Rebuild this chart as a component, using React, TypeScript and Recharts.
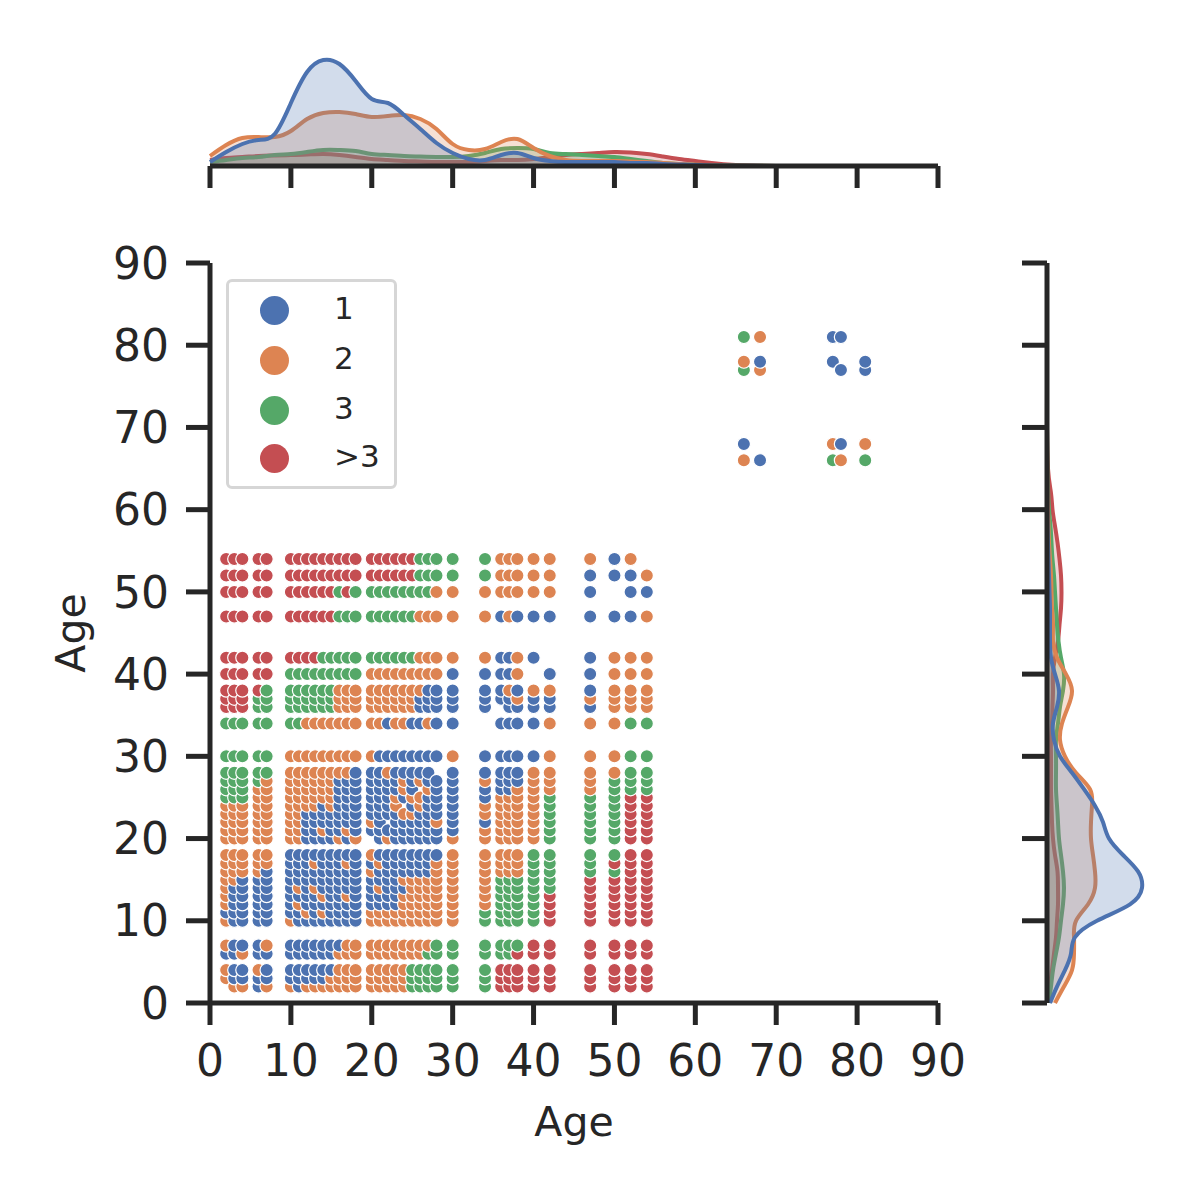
import { Area, AreaChart, Scatter, ScatterChart, XAxis, YAxis } from "recharts";

const BLUE = "#4c72b0";
const ORANGE = "#dd8452";
const GREEN = "#55a868";
const RED = "#c44e52";
const INK = "#262626";
const FONT = "DejaVu Sans";

const TICKS = [0, 10, 20, 30, 40, 50, 60, 70, 80, 90];

const legendLabels = ["1", "2", "3", ">3"];
const legendColors = [BLUE, ORANGE, GREEN, RED];
const colorByCode: Record<string, string> = { B: BLUE, O: ORANGE, G: GREEN, R: RED };

// lower-left block: one letter per age in gridX, "." = no point
const gridX = [2, 3, 4, 6, 7, 10, 11, 12, 13, 14, 15, 16, 17, 18, 20, 21, 22, 23, 24, 25, 26, 27, 28, 30, 34, 36, 37, 38, 40, 42, 47, 50, 52, 54];
const gridY = [54, 52, 50, 47, 42, 40, 38, 37, 36, 34, 30, 28, 27, 26, 25, 24, 23, 22, 21, 20, 18, 17, 16, 15, 14, 13, 12, 11, 10, 7, 6, 4, 3, 2];
const gridRows = [
  "RRR RR RRRRRRRRR RRRRRRGGG G G OOO OO O BO.",
  "RRR RR RRRRRRRRR RRRRRRGGG G G OOO OO B BBO",
  "RRR RR RRRRRRGRG GGGGGGGGO O O OOO OO B .BB",
  "RRR RR RRRRRRGGG GGGGGGOOO O O BOB BB B BBO",
  "RRR RR RRRRGGGGG GGGGGGOOO O O BBO B. B OOO",
  "RRR RR GGGGGGGGG OOOOOOOOO B B BBO .B B OOO",
  "RRR RG GGGGGGOOO OOOOOOOBB B B BOB OO B OOO",
  "RRR GG GGGGGGOOO OOOOOOBBB B B BBO BB O OOO",
  "RRR GG GGGGGGOOO OOOOOOBBB B B .BB BB B OOO",
  "GGG GG GGOOOOOOO OOBOOBBOB B . BBB BO O OGG",
  "GGG GG OOOOOOOOO OBBBBBBBB O B BBB BO O OGG",
  "GGG GG OOOOOOOOB BBOBBBBB. B B BBB OO O OGG",
  "GGG GO OOOOOOBBB BBBBOBOBB B O BBB OO O GGG",
  "GGG OO OOOOOOBBB BBBBOB.OB B B BBO OO O GGG",
  "GGG OO OOOOOOBBB BBBOBOOBB B B OOO OG G GRR",
  "OOO OO OOOOBOBBB BBBO.BOBB B O OOO OG G GRR",
  "OOO OO OOBBBBBBB BBBBOOBBB B O OOO OG G GRR",
  "OOO OO OOBBBBBBB OB.BBBBBO B B OOO OG G GRR",
  "OOO OO OOBBOBBOB BBBBBBBBB B O OOO OG G GRR",
  "OOO OO OOBBBBOBO .BOBBBBBB O O OOO OG G GRR",
  "OOO OO BBBBBBBBB OBBBBBBBB O O OOO GG G GRR",
  "OOO OO BBBOBBBOB BOBBBBBBO O O OOO GG G RRR",
  "OOO OB BBBBBBBBB OBBBBBBBO O O OOO GG G GRR",
  "OOB BB BBBBBBBBB BBBBOOOOO O O GGG GG R RRR",
  "OBB BB BOBOBBBBB BOBBBOOOO O O GGG GG R RRR",
  "OBB BB BBBBOBBOB BBBBOOOOO O O GGG GR R RRR",
  "OBB BB BOBBBBBBB BBBBOOOOO O O GGG GR R RRR",
  "BBB BB BBOBOBBBB OOOOOOOOO O G GGG GR R RRR",
  "OBB BB OBBBBBBBB OOOOOOOOO O G GGG GR R RRR",
  "OBB BO BBBBBBBOO OOOOOOOOG G G GGG RR R RRR",
  "BBO BB BBBBBBOOO OOOOOOOGG G G GGR RR R RRR",
  "OBB OB BBBBBBOOO OOOOOGGGG G G RRR RR R RRR",
  "OBB BB BBBBBOOOO OOOOOGGGG G G RRR RR R RRR",
  ".OO BO OBOOOOOOO OOOOOGGGG G G RRR RR R RRR",
];

// upper-right cluster
const farX = [66, 68, 77, 78, 81];
const farY = [81, 78, 77, 68, 66];
const farRows = ["GOBB.", "OBB.B", "GO.BB", "B.OBO", "OBGOG"];

function collect(xs: number[], ys: number[], rows: string[]) {
  const out: { x: number; y: number; code: string }[] = [];
  xs.forEach((x, i) => {
    // ascending y so the upper dot is painted over the lower one
    ys.map((y, j) => ({ y, j }))
      .sort((a, b) => a.y - b.y)
      .forEach(({ y, j }) => {
        const code = rows[j].replace(/ /g, "")[i];
        if (code !== ".") out.push({ x, y, code });
      });
  });
  return out;
}

const points = [...collect(gridX, gridY, gridRows), ...collect(farX, farY, farRows)];

// marginal densities, arbitrary units
const kdeAges = [0, 2, 4, 6, 8, 10, 12, 14, 16, 18, 20, 22, 24, 26, 28, 30, 32, 34, 36, 38, 40, 42, 44, 46, 48, 50, 52, 54, 56, 58, 60, 62, 65, 70, 75, 90];

const topBlue = [4, 14, 22, 26, 32, 63, 94, 106, 102, 85, 67, 63, 51, 37, 23, 13, 7, 6, 11, 13, 8, 5, 4, 4, 4, 4, 3, 3, 2, 1.5, 1, 0.6, 0.3, 0, 0, 0];
const topOrange = [10, 21, 28, 29, 29, 35, 47, 53, 54, 52, 49, 50, 51, 47, 37, 22, 16, 17, 24, 27, 18, 10, 6, 5, 5, 5, 4.5, 4, 3, 2, 1.3, 0.8, 0.3, 0, 0, 0];
const topGreen = [4, 6, 8, 9, 11, 12, 14, 16, 16, 15, 12, 11, 10, 9.5, 9, 9, 10, 13, 17, 18, 17, 13, 12, 11, 10, 9, 7, 5, 3, 2, 1.3, 0.8, 0.5, 0, 0, 0];
const topRed = [6, 8, 9, 10, 10.5, 11, 11.5, 12, 11, 9, 7, 6, 5, 4.5, 4, 4, 4, 5, 6, 6, 7, 9, 11, 12, 13, 14, 13.5, 12, 9.5, 7, 5, 3, 1, 0, 0, 0];

const sideBlue = [3, 10, 18, 24, 28, 50, 83, 95, 91, 76, 62, 56, 48, 37, 25, 13, 7, 6, 10, 12, 8, 4, 3, 3, 3, 2.5, 2, 1.5, 1, 0.5, 0.3, 0.2, 0.1, 0, 0, 0];
const sideOrange = [8, 17, 25, 27, 27, 29, 41, 48, 48, 46, 44, 44, 45, 43, 29, 18, 13, 15, 21, 25, 19, 10, 6, 6, 5, 4.5, 4, 3, 2, 1.5, 1, 0.6, 0.3, 0, 0, 0];
const sideGreen = [2, 4, 6, 9, 12, 14, 16, 17, 16, 14, 12, 11, 10, 9, 9, 9, 9, 11, 13, 16, 17, 14, 11.5, 10, 9, 8, 7, 5.5, 4.5, 3.5, 2, 1.2, 0.5, 0, 0, 0];
const sideRed = [2, 3, 5, 7, 9, 10, 11, 11, 10.5, 8, 6, 5, 4.5, 4, 4, 4, 4, 5, 5.5, 6, 6, 8, 11, 12.5, 14, 14.5, 14, 12.5, 10.5, 8, 5.5, 4, 1, 0, 0, 0];

const topData = kdeAges.map((age, i) => ({ age, blue: topBlue[i], orange: topOrange[i], green: topGreen[i], red: topRed[i] }));
const sideData = kdeAges.map((age, i) => ({ age, blue: sideBlue[i], orange: sideOrange[i], green: sideGreen[i], red: sideRed[i] }));

const kdeSeries: [string, string][] = [["red", RED], ["green", GREEN], ["orange", ORANGE], ["blue", BLUE]];

const axisLine = { stroke: INK, strokeWidth: 5 };
const tickLine = { stroke: INK, strokeWidth: 5 };
const tickStyle = { fill: INK, fontSize: 44, fontFamily: FONT };
const axisLabel = { fill: INK, fontSize: 41, fontFamily: FONT };
const layer = { position: "absolute", left: 0, top: 0 } as const;

function Dot(props: any) {
  return <circle cx={props.cx} cy={props.cy} r={6.6} fill={colorByCode[props.payload.code]} stroke="#fff" strokeWidth={1.2} />;
}

function KdeAreas() {
  return kdeSeries.map(([key, color]) => (
    <Area
      key={key}
      dataKey={key}
      type="natural"
      stroke={color}
      strokeWidth={4}
      fill={color}
      fillOpacity={0.25}
      dot={false}
      activeDot={false}
      isAnimationActive={false}
    />
  ));
}

function JointLegend() {
  return (
    <div
      style={{
        position: "absolute",
        left: 226,
        top: 279,
        width: 171,
        height: 210,
        boxSizing: "border-box",
        border: "3.5px solid #d6d6d6",
        borderRadius: 6,
        background: "#fff",
        fontFamily: FONT,
        fontSize: 31,
        color: INK,
      }}
    >
      {legendLabels.map((label, i) => (
        <div key={label} style={{ position: "absolute", left: 0, top: [28, 78, 128, 176][i] - 22, height: 44, display: "flex", alignItems: "center" }}>
          <span style={{ width: 29, height: 29, borderRadius: "50%", background: legendColors[i], marginLeft: 31 }} />
          <span style={{ marginLeft: 45, position: "relative", top: -2 }}>{label}</span>
        </div>
      ))}
    </div>
  );
}

export default function App() {
  return (
    <div style={{ position: "absolute", left: 0, top: 0, width: 1200, height: 1200, background: "#fff", overflow: "hidden" }}>
      <div style={layer}>
        <ScatterChart width={1200} height={1200} margin={{ top: 263, right: 262, bottom: 57, left: 50 }}>
          <XAxis
            type="number"
            dataKey="x"
            domain={[0, 90]}
            ticks={TICKS}
            interval={0}
            height={140}
            tickSize={22}
            tickMargin={20}
            axisLine={axisLine}
            tickLine={tickLine}
            tick={tickStyle}
            label={{ ...axisLabel, value: "Age", position: "insideBottom", offset: 7 }}
          />
          <YAxis
            type="number"
            dataKey="y"
            domain={[0, 90]}
            ticks={TICKS}
            interval={0}
            width={160}
            tickSize={24}
            tickMargin={17}
            axisLine={axisLine}
            tickLine={tickLine}
            tick={tickStyle}
            label={{ ...axisLabel, value: "Age", angle: -90, position: "insideLeft", offset: 20, textAnchor: "middle" }}
          />
          <Scatter data={points} shape={Dot} isAnimationActive={false} />
        </ScatterChart>
      </div>

      <div style={layer}>
        <AreaChart width={1200} height={200} data={topData} margin={{ top: 46, right: 262, bottom: 0, left: 210 }}>
          <XAxis
            type="number"
            dataKey="age"
            domain={[0, 90]}
            ticks={TICKS}
            interval={0}
            height={34}
            tickSize={22}
            axisLine={axisLine}
            tickLine={tickLine}
            tickFormatter={() => ""}
          />
          <YAxis hide domain={[0, 120]} />
          {KdeAreas()}
        </AreaChart>
      </div>

      <div style={{ ...layer, left: 1000, top: 0 }}>
        <AreaChart width={200} height={1200} layout="vertical" data={sideData} margin={{ top: 263, right: 33, bottom: 197, left: 17 }}>
          <XAxis type="number" hide domain={[0, 120]} />
          <YAxis
            type="number"
            dataKey="age"
            domain={[0, 90]}
            ticks={TICKS}
            interval={0}
            reversed
            width={30}
            tickSize={25}
            axisLine={axisLine}
            tickLine={tickLine}
            tickFormatter={() => ""}
          />
          {KdeAreas()}
        </AreaChart>
      </div>

      <JointLegend />
    </div>
  );
}
